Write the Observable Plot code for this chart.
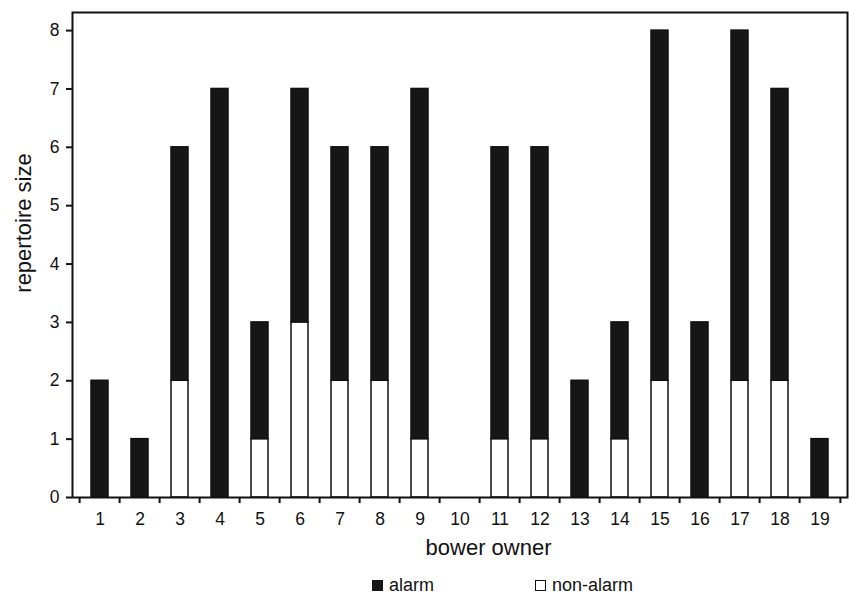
<!DOCTYPE html>
<html><head><meta charset="utf-8">
<script src="https://cdn.jsdelivr.net/npm/d3@7"></script>
<script src="https://cdn.jsdelivr.net/npm/@observablehq/plot@0.6"></script>
<style>
body{margin:0;background:#fff;font-family:"Liberation Sans",Arial,sans-serif;}
#legend{position:relative;width:849px;height:36px;}
#legend .sw{position:absolute;top:20px;width:11px;height:11px;box-sizing:border-box;}
#legend .lb{position:absolute;top:16px;font-size:18px;line-height:18px;color:#111;white-space:nowrap;}
</style>
</head><body>
<div id="chart"></div>
<div id="legend"></div>
<script>
const owners = ["1","2","3","4","5","6","7","8","9","10","11","12","13","14","15","16","17","18","19"];
const alarm    = [2,1,4,7,2,4,4,4,6,0,5,5,2,2,6,3,6,5,1];
const nonAlarm = [0,0,2,0,1,3,2,2,1,0,1,1,0,1,2,0,2,2,0];
const types = ["alarm","non-alarm"];
const yTicks = [0,1,2,3,4,5,6,7,8];
const xLabel = "bower owner";
const yLabel = "repertoire size";

const W=849,H=560,mL=72,mR=2,mT=12,mB=63;
const step=(W-mL-mR)/owners.length;

const data = owners.flatMap((o,i)=>[
  {owner:o,type:"non-alarm",value:nonAlarm[i]},
  {owner:o,type:"alarm",value:alarm[i]}
]).filter(d=>d.value>0);

const plot = Plot.plot({
  width:W,height:H,marginLeft:mL,marginRight:mR,marginTop:mT,marginBottom:mB,
  style:{fontFamily:'"Liberation Sans",Arial,sans-serif',fontSize:"17.5px",color:"#111",background:"#fff"},
  x:{type:"band",domain:owners,paddingInner:0.57,paddingOuter:0.285,axis:null},
  y:{domain:[0,8.31],axis:null},
  color:{domain:types,range:["#161616","#ffffff"]},
  marks:[
    Plot.barY(data,{x:"owner",y:"value",fill:"type",stroke:"#111",strokeWidth:1.5}),
    Plot.frame({stroke:"#111",strokeWidth:2}),
    Plot.axisY({ticks:yTicks,tickSize:6,tickPadding:7,strokeWidth:2,label:null}),
    Plot.axisX({tickSize:0,tickPadding:15,label:null}),
    Plot.axisX({tickSize:6,tickFormat:()=>"",dx:-step/2,strokeWidth:2,label:null}),
    Plot.axisX({ticks:[owners[owners.length-1]],tickSize:6,tickFormat:()=>"",dx:step/2,strokeWidth:2,label:null}),
    Plot.text([yLabel],{frameAnchor:"left",rotate:-90,textAnchor:"middle",dx:-49,dy:-32,fontSize:22,fill:"#111"}),
    Plot.text([xLabel],{frameAnchor:"bottom",lineAnchor:"bottom",dx:28.5,dy:57,fontSize:22,fill:"#111"})
  ]
});
document.getElementById("chart").appendChild(plot);

const legend = document.getElementById("legend");
const items = [
  {label:types[0],sw:372,tx:389,fill:"#161616",border:"none"},
  {label:types[1],sw:535,tx:552,fill:"#fff",border:"1px solid #111"}
];
items.forEach(it=>{
  const s=document.createElement("div");
  s.className="sw";s.style.left=it.sw+"px";s.style.background=it.fill;s.style.border=it.border;
  legend.appendChild(s);
  const t=document.createElement("div");
  t.className="lb";t.style.left=it.tx+"px";t.textContent=it.label;
  legend.appendChild(t);
});
</script>
</body></html>
